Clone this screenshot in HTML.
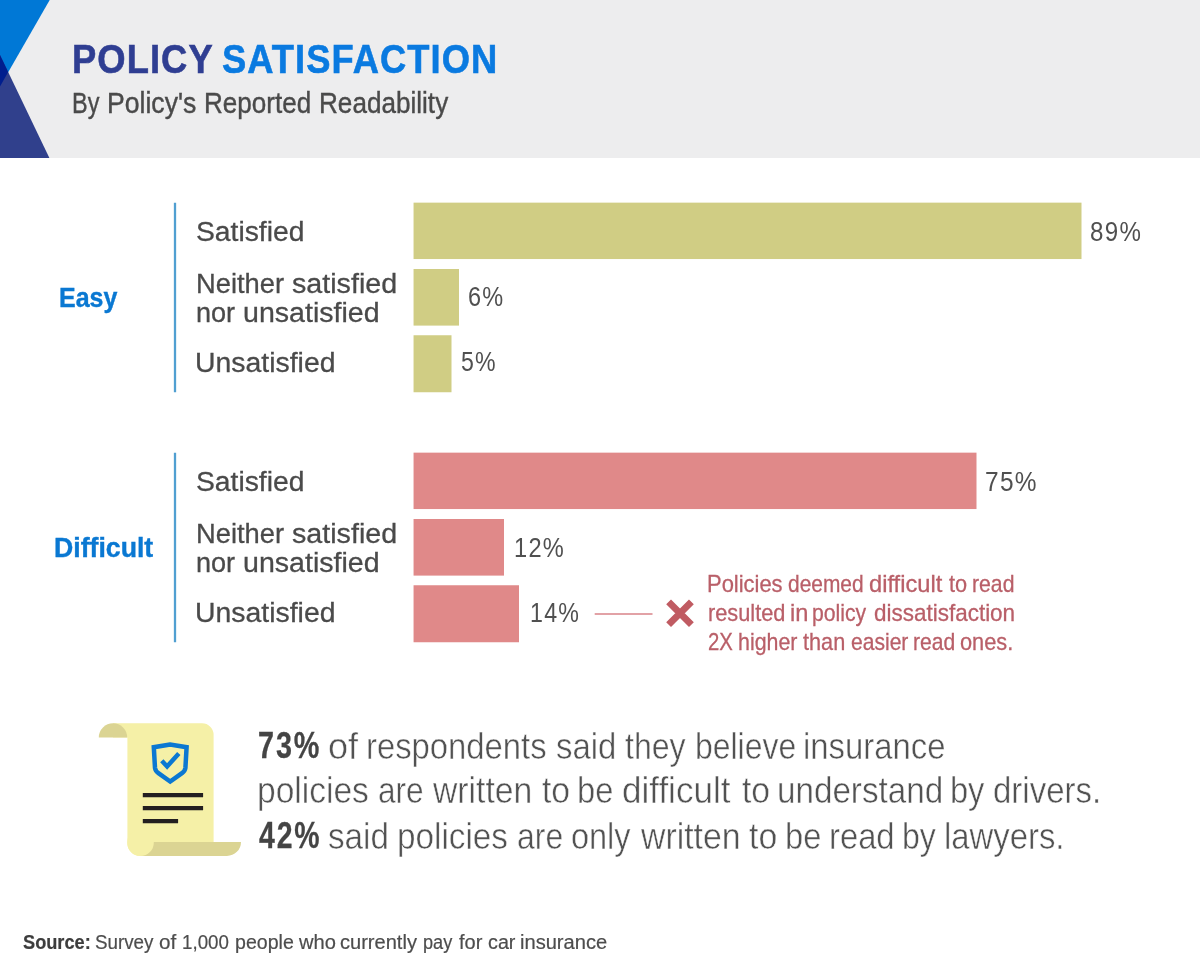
<!DOCTYPE html>
<html lang="en">
<head>
<meta charset="utf-8">
<title>Policy Satisfaction by Policy's Reported Readability</title>
<style>
html,body{margin:0;padding:0;background:#fff;}
body{width:1200px;height:975px;overflow:hidden;position:relative;
  font-family:"Liberation Sans",sans-serif;color:#4a4a4a;}
h1,h2,p,ul,li{margin:0;padding:0;list-style:none;font-weight:400;}
.t{font-weight:400;font-style:normal;}
.s1{font-size:41px;line-height:41px;color:#2f3e92;font-weight:700;-webkit-text-stroke:0.6px #2f3e92;letter-spacing:1.2px;}
.s2{font-size:41px;line-height:41px;color:#0a7ae0;font-weight:700;-webkit-text-stroke:0.6px #0a7ae0;letter-spacing:1.2px;}
.s3{font-size:29px;line-height:29px;color:#4a4a4a;-webkit-text-stroke:0.4px #4a4a4a;}
.s4{font-size:27.5px;line-height:27.5px;color:#0a78d2;font-weight:700;-webkit-text-stroke:0.4px #0a78d2;}
.s5{font-size:28.2px;line-height:28.2px;color:#4a4a4a;-webkit-text-stroke:0.3px #4a4a4a;}
.s6{font-size:28.2px;line-height:28.2px;color:#505050;letter-spacing:1.5px;}
.s7{font-size:24px;line-height:24px;color:#b95f68;-webkit-text-stroke:0.3px #b95f68;}
.s8{font-size:37.5px;line-height:37.5px;color:#444;font-weight:700;-webkit-text-stroke:0.3px #444;letter-spacing:2.5px;}
.s9{font-size:37.5px;line-height:37.5px;color:#525252;-webkit-text-stroke:0.5px #fff;}
.s10{font-size:20px;line-height:20px;color:#3d3d3d;font-weight:700;-webkit-text-stroke:0.2px #3d3d3d;}
.s11{font-size:20px;line-height:20px;color:#4d4d4d;-webkit-text-stroke:0.2px #4d4d4d;}
.t>span{position:absolute;display:block;white-space:nowrap;transform-origin:0 50%;}
header{position:absolute;left:0;top:0;width:1200px;height:158px;background:#ededee;}
svg{position:absolute;left:0;top:0;overflow:visible;}
</style>
</head>
<body>

<header>
<svg width="60" height="158" viewBox="0 0 60 158" aria-hidden="true">
<polygon points="0,0 49.7,0 0,86.4" fill="#0078d6"/>
<polygon points="0,55 49.4,158 0,158" fill="#30408c"/>
<polygon points="0,55 8.2,72.1 0,86.4" fill="#001e8e"/>
</svg>
<h1><span class="t s1"><span id="t1_0" style="left:72px;top:39px;transform:scaleX(0.8865)">POLICY</span></span> <span class="t s2"><span id="t2_0" style="left:222px;top:39px;transform:scaleX(0.8855)">SATISFACTION</span></span></h1>
<p class="t s3"><span id="sub_0" style="left:72px;top:89px;transform:scaleX(0.8086)">By</span> <span id="sub_1" style="left:107px;top:89px;transform:scaleX(0.9170)">Policy's</span> <span id="sub_2" style="left:204px;top:89px;transform:scaleX(0.8989)">Reported</span> <span id="sub_3" style="left:319px;top:89px;transform:scaleX(0.9004)">Readability</span></p>
</header>
<main>
<section class="easy">
<h2 class="t s4"><span id="en_0" style="left:59px;top:284px;transform:scaleX(0.9073)">Easy</span></h2>
<svg width="1200" height="975" viewBox="0 0 1200 975" aria-hidden="true">
<rect x="173.85" y="202.75" width="2.3" height="189.5" fill="#509fd1"/>
<rect x="413.55" y="202.65" width="667.95" height="56.4" fill="#d0cd84"/>
<rect x="413.55" y="269.00" width="45.45" height="56.6" fill="#d0cd84"/>
<rect x="413.55" y="335.25" width="37.95" height="57.0" fill="#d0cd84"/>
</svg>
<ul>
<li><span class="t s5"><span id="el1_0" style="left:196px;top:217px;transform:scaleX(1.0033)">Satisfied</span></span> <span class="t s6"><span id="ep1_0" style="left:1090px;top:217px;transform:scaleX(0.8554)">89%</span></span></li>
<li><span class="t s5"><span id="el2a_0" style="left:196px;top:269px;transform:scaleX(0.9695)">Neither</span> <span id="el2a_1" style="left:292px;top:269px;transform:scaleX(1.0166)">satisfied</span></span> <span class="t s5"><span id="el2b_0" style="left:196px;top:298px;transform:scaleX(0.9606)">nor</span> <span id="el2b_1" style="left:243px;top:298px;transform:scaleX(1.0136)">unsatisfied</span></span> <span class="t s6"><span id="ep2_0" style="left:468px;top:282px;transform:scaleX(0.8344)">6%</span></span></li>
<li><span class="t s5"><span id="el3_0" style="left:195px;top:348px;transform:scaleX(1.0074)">Unsatisfied</span></span> <span class="t s6"><span id="ep3_0" style="left:461px;top:347px;transform:scaleX(0.8199)">5%</span></span></li>
</ul>
</section>
<section class="diff">
<h2 class="t s4"><span id="dn_0" style="left:54px;top:534px;transform:scaleX(0.9698)">Difficult</span></h2>
<svg width="1200" height="975" viewBox="0 0 1200 975" aria-hidden="true">
<rect x="173.85" y="452.75" width="2.3" height="189.5" fill="#509fd1"/>
<rect x="413.55" y="452.65" width="562.95" height="56.4" fill="#e08989"/>
<rect x="413.55" y="519.00" width="90.45" height="56.6" fill="#e08989"/>
<rect x="413.55" y="585.25" width="105.45" height="57.0" fill="#e08989"/>
</svg>
<ul>
<li><span class="t s5"><span id="dl1_0" style="left:196px;top:467px;transform:scaleX(1.0033)">Satisfied</span></span> <span class="t s6"><span id="dp1_0" style="left:985px;top:467px;transform:scaleX(0.8671)">75%</span></span></li>
<li><span class="t s5"><span id="dl2a_0" style="left:196px;top:519px;transform:scaleX(0.9695)">Neither</span> <span id="dl2a_1" style="left:292px;top:519px;transform:scaleX(1.0166)">satisfied</span></span> <span class="t s5"><span id="dl2b_0" style="left:196px;top:548px;transform:scaleX(0.9606)">nor</span> <span id="dl2b_1" style="left:243px;top:548px;transform:scaleX(1.0136)">unsatisfied</span></span> <span class="t s6"><span id="dp2_0" style="left:514px;top:533px;transform:scaleX(0.8376)">12%</span></span></li>
<li><span class="t s5"><span id="dl3_0" style="left:195px;top:598px;transform:scaleX(1.0074)">Unsatisfied</span></span> <span class="t s6"><span id="dp3_0" style="left:530px;top:598px;transform:scaleX(0.8233)">14%</span></span></li>
</ul>
</section>
<aside>
<svg width="1200" height="975" viewBox="0 0 1200 975" aria-hidden="true">
<line x1="594.7" y1="614" x2="652.5" y2="614" stroke="#d88388" stroke-width="1.6"/>
<path d="M668.6 601.8 L691.4 624.6 M691.4 601.8 L668.6 624.6" stroke="#c05b62" stroke-width="6.8" fill="none"/>
</svg>
<p><span class="t s7"><span id="a1_0" style="left:707px;top:572px;transform:scaleX(0.9139)">Policies</span> <span id="a1_1" style="left:788px;top:572px;transform:scaleX(0.8720)">deemed</span> <span id="a1_2" style="left:869px;top:572px;transform:scaleX(0.9864)">difficult</span> <span id="a1_3" style="left:949px;top:572px;transform:scaleX(0.9047)">to</span> <span id="a1_4" style="left:972px;top:572px;transform:scaleX(0.8832)">read</span></span> <span class="t s7"><span id="a2_0" style="left:708px;top:601px;transform:scaleX(0.9067)">resulted</span> <span id="a2_1" style="left:790px;top:601px;transform:scaleX(0.9847)">in</span> <span id="a2_2" style="left:812px;top:601px;transform:scaleX(0.8814)">policy</span> <span id="a2_3" style="left:874px;top:601px;transform:scaleX(0.9361)">dissatisfaction</span></span> <span class="t s7"><span id="a3_0" style="left:708px;top:630px;transform:scaleX(0.8462)">2X</span> <span id="a3_1" style="left:738px;top:630px;transform:scaleX(0.8911)">higher</span> <span id="a3_2" style="left:803px;top:630px;transform:scaleX(0.9038)">than</span> <span id="a3_3" style="left:851px;top:630px;transform:scaleX(0.8779)">easier</span> <span id="a3_4" style="left:913px;top:630px;transform:scaleX(0.8791)">read</span> <span id="a3_5" style="left:960px;top:630px;transform:scaleX(0.9065)">ones.</span></span></p>
</aside>
<section class="finding">
<svg width="1200" height="975" viewBox="0 0 1200 975" aria-hidden="true">
<path d="M113 723.3 H202.1 A11.5 11.5 0 0 1 213.6 734.8 V842.5 H140 V856 A12.6 13 0 0 1 127.4 843 V737.5 H113 Z" fill="#f5f0a7"/>
<path d="M98.8 737.5 A14.2 14.2 0 0 1 127.2 737.5 Z" fill="#dbd493"/>
<path d="M140 841.9 H241 A14.1 14.1 0 0 1 226.9 856 H140 Z" fill="#dbd493"/>
<circle cx="140.5" cy="842.7" r="13.3" fill="#f5f0a7"/>
<path d="M170.2 744.5 L153.8 747.2 L155 768 Q155.5 771.2 158.4 773.2 L170.2 781.6 L182 773.2 Q184.9 771.2 185.4 768 L186.6 747.2 Z" fill="none" stroke="#0b78d2" stroke-width="4.5" stroke-linejoin="miter"/>
<path d="M161.8 760.8 L167.1 766.5 L178.8 753.4" fill="none" stroke="#0b78d2" stroke-width="4.5" stroke-linecap="butt" stroke-linejoin="miter"/>
<path d="M142.8 795.2 H203.1 M142.8 808.1 H203.1 M142.8 821.1 H178.1" stroke="#231f20" stroke-width="4.2" fill="none"/>
</svg>
<p><b class="t s8"><span id="b1b_0" style="left:258px;top:727px;transform:scaleX(0.7667)">73%</span></b> <span class="t s9"><span id="b1_0" style="left:328px;top:728px;transform:scaleX(0.9633)">of</span> <span id="b1_1" style="left:366px;top:728px;transform:scaleX(0.8750)">respondents</span> <span id="b1_2" style="left:556px;top:728px;transform:scaleX(0.8782)">said</span> <span id="b1_3" style="left:625px;top:728px;transform:scaleX(0.8554)">they</span> <span id="b1_4" style="left:695px;top:728px;transform:scaleX(0.8510)">believe</span> <span id="b1_5" style="left:803px;top:728px;transform:scaleX(0.8760)">insurance</span></span> <span class="t s9"><span id="b2_0" style="left:257px;top:772px;transform:scaleX(0.8941)">policies</span> <span id="b2_1" style="left:378px;top:772px;transform:scaleX(0.8423)">are</span> <span id="b2_2" style="left:433px;top:772px;transform:scaleX(0.8990)">written</span> <span id="b2_3" style="left:542px;top:772px;transform:scaleX(0.8973)">to</span> <span id="b2_4" style="left:577px;top:772px;transform:scaleX(0.8707)">be</span> <span id="b2_5" style="left:622px;top:772px;transform:scaleX(0.9347)">difficult</span> <span id="b2_6" style="left:742px;top:772px;transform:scaleX(0.8973)">to</span> <span id="b2_7" style="left:777px;top:772px;transform:scaleX(0.8854)">understand</span> <span id="b2_8" style="left:950px;top:772px;transform:scaleX(0.8688)">by</span> <span id="b2_9" style="left:993px;top:772px;transform:scaleX(0.8800)">drivers.</span></span> <b class="t s8"><span id="b3b_0" style="left:259px;top:817px;transform:scaleX(0.7570)">42%</span></b> <span class="t s9"><span id="b3_0" style="left:328px;top:818px;transform:scaleX(0.8855)">said</span> <span id="b3_1" style="left:397px;top:818px;transform:scaleX(0.8872)">policies</span> <span id="b3_2" style="left:517px;top:818px;transform:scaleX(0.8512)">are</span> <span id="b3_3" style="left:571px;top:818px;transform:scaleX(0.8660)">only</span> <span id="b3_4" style="left:641px;top:818px;transform:scaleX(0.9009)">written</span> <span id="b3_5" style="left:749px;top:818px;transform:scaleX(0.9009)">to</span> <span id="b3_6" style="left:785px;top:818px;transform:scaleX(0.8707)">be</span> <span id="b3_7" style="left:829px;top:818px;transform:scaleX(0.8737)">read</span> <span id="b3_8" style="left:902px;top:818px;transform:scaleX(0.8528)">by</span> <span id="b3_9" style="left:944px;top:818px;transform:scaleX(0.8759)">lawyers.</span></span></p>
</section>
</main>
<footer><p><b class="t s10"><span id="fb_0" style="left:23px;top:932px;transform:scaleX(0.9095)">Source:</span></b> <span class="t s11"><span id="f1_0" style="left:95px;top:932px;transform:scaleX(0.9391)">Survey</span> <span id="f1_1" style="left:159px;top:932px;transform:scaleX(1.0325)">of</span> <span id="f1_2" style="left:182px;top:932px;transform:scaleX(0.9370)">1,000</span> <span id="f1_3" style="left:235px;top:932px;transform:scaleX(0.9788)">people</span> <span id="f1_4" style="left:299px;top:932px;transform:scaleX(1.0055)">who</span> <span id="f1_5" style="left:340px;top:932px;transform:scaleX(1.0029)">currently</span> <span id="f1_6" style="left:423px;top:932px;transform:scaleX(0.9082)">pay</span> <span id="f1_7" style="left:459px;top:932px;transform:scaleX(1.0014)">for</span> <span id="f1_8" style="left:488px;top:932px;transform:scaleX(0.9882)">car</span> <span id="f1_9" style="left:520px;top:932px;transform:scaleX(1.0044)">insurance</span></span></p></footer>
</body>
</html>
